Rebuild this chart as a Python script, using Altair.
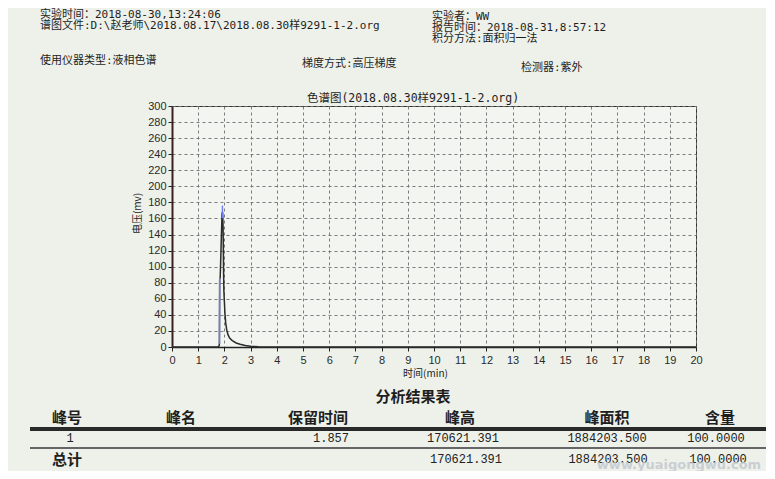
import altair as alt
import pandas as pd

# ---- chromatogram trace ----
time_min = [0, 1.0, 1.76, 1.80, 1.81, 1.82, 1.84, 1.87, 1.91, 1.93, 1.95, 1.96, 1.97, 1.98,
            2.00, 2.02, 2.05, 2.09, 2.14, 2.20, 2.30, 2.45, 2.60, 2.80, 3.00, 3.30, 4.00, 20.0]
voltage_mv = [0, 0, 0.2, 1.5, 4, 84, 87, 120, 166, 168, 150, 120, 90, 70,
              56, 42, 30, 21, 15, 11, 8, 5, 3.5, 2, 1, 0.4, 0.1, 0]

# blue peak markers
blue_seg = [1, 1, 2, 2]
blue_time = [1.81, 1.82, 1.925, 1.925]
blue_volt = [4, 86, 160, 176]

# axis ticks
x_ticks = list(range(0, 21))
y_ticks = list(range(0, 301, 20))

# ---- header texts ----
header_texts = [
    "实验时间：2018-08-30,13:24:06",
    "谱图文件:D:\\赵老师\\2018.08.17\\2018.08.30样9291-1-2.org",
    "实验者：WW",
    "报告时间：2018-08-31,8:57:12",
    "积分方法:面积归一法",
    "使用仪器类型:液相色谱",
    "梯度方式:高压梯度",
    "检测器:紫外",
]
header_px = [-132, -132, 260, 260, 260, -132, 130, 349]
header_py = [-91, -80, -89, -78, -67, -45, -42, -38]

chart_title = "色谱图(2018.08.30样9291-1-2.org)"

# ---- result table ----
table_title = "分析结果表"
col_headers = ["峰号", "峰名", "保留时间", "峰高", "峰面积", "含量"]
row1 = ["1", "", "1.857", "170621.391", "1884203.500", "100.0000"]
total_label = "总计"
total_row = ["", "", "", "170621.391", "1884203.500", "100.0000"]
watermark = "www.yuaigongwu.com"

col_x = [-105, 9, 146, 288, 435, 548]
row1_x = [-102, 9, 159, 291, 435, 544]
total_x = [-105, 9, 146, 294, 436, 546]

W, H = 524, 241

trace_df = pd.DataFrame({"t": time_min, "v": voltage_mv})
blue_df = pd.DataFrame({"seg": blue_seg, "t": blue_time, "v": blue_volt})

xscale = alt.Scale(domain=[0, 20], nice=False)
yscale = alt.Scale(domain=[0, 300], nice=False)

x_axis = alt.Axis(values=x_ticks, grid=True, gridDash=[3, 3],
                  gridColor="#6f6f6f", gridOpacity=0.9, labelFontSize=11,
                  labelColor="#2a2a2a", labelFont="Liberation Sans",
                  labelOverlap=False, labelFlush=False,
                  domainColor="#222", domainWidth=1.5, tickColor="#222",
                  tickSize=4, labelPadding=3,
                  titleFont="Noto Sans CJK SC", titleFontSize=10,
                  titleFontWeight="normal", titleColor="#222",
                  titleX=253, titleY=26, titleBaseline="middle")
y_axis = alt.Axis(values=y_ticks, grid=True, gridDash=[3, 3],
                  gridColor="#6f6f6f", gridOpacity=0.9, labelFontSize=11,
                  labelColor="#2a2a2a", labelFont="Liberation Sans",
                  labelOverlap=False, labelFlush=False,
                  domainColor="#3a2020", domainWidth=2, tickColor="#222",
                  tickSize=4, labelPadding=2,
                  titleFont="Noto Sans CJK SC", titleFontSize=10,
                  titleFontWeight="normal", titleColor="#222",
                  titleX=-35, titleY=107, titleAngle=270,
                  titleAlign="center", titleBaseline="middle")

trace = alt.Chart(trace_df).mark_line(color="#2b2b2b", strokeWidth=1.5).encode(
    x=alt.X("t:Q", scale=xscale, title="时间(min)", axis=x_axis),
    y=alt.Y("v:Q", scale=yscale, title="电压(mv)", axis=y_axis),
)

blue = alt.Chart(blue_df).mark_line(color="#6a7cf0", strokeWidth=1.4).encode(
    x=alt.X("t:Q", scale=xscale, title="时间(min)", axis=x_axis),
    y=alt.Y("v:Q", scale=yscale, title="电压(mv)", axis=y_axis),
    detail="seg:N",
)


def text_layer(texts, xs, ys, **kw):
    df = pd.DataFrame({"txt": texts, "px": xs, "py": ys})
    df = df[df["txt"] != ""]
    return alt.Chart(df).mark_text(baseline="middle", **kw).encode(
        x=alt.X("px:Q", scale=None, axis=None),
        y=alt.Y("py:Q", scale=None, axis=None),
        text="txt:N",
    )


mono = "DejaVu Sans Mono, Noto Sans CJK SC"
tfont = "Liberation Mono, Noto Sans CJK SC"

headers = text_layer(header_texts, header_px, header_py, align="left",
                     font=mono, fontSize=11, color="#1e1e1e")
title_t = text_layer([chart_title], [241], [-7], align="center",
                     font=mono, fontSize=11.5, color="#1e1e1e")
tab_title = text_layer([table_title], [241], [291], align="center",
                       font="Noto Sans CJK SC", fontSize=15, fontWeight="bold",
                       color="#1e1e1e")
col_head = text_layer(col_headers, col_x, [312] * 6, align="center",
                      font="Noto Sans CJK SC", fontSize=15, fontWeight="bold",
                      color="#1e1e1e")
r1 = text_layer(row1, row1_x, [332] * 6, align="center",
                font=tfont, fontSize=12, color="#222")
tot_lbl = text_layer([total_label], [total_x[0]], [354], align="center",
                     font="Noto Sans CJK SC", fontSize=15, fontWeight="bold",
                     color="#1e1e1e")
tot = text_layer(total_row, total_x, [353] * 6, align="center",
                 font=tfont, fontSize=12, color="#222")
wm = text_layer([watermark], [507], [359], align="center",
                font="DejaVu Sans", fontSize=13, fontWeight="bold",
                color="#c4c9d0", opacity=0.85)

thick_rule = alt.Chart(trace_df).mark_rule(color="#2a2a2a", strokeWidth=2.5).encode(
    x=alt.value(-142), x2=alt.value(600), y=alt.value(323))
thin_rule = alt.Chart(trace_df).mark_rule(color="#666", strokeWidth=1.5).encode(
    x=alt.value(-142), x2=alt.value(600), y=alt.value(342))

plot = alt.layer(trace, blue)
texts = alt.layer(headers, title_t, tab_title, col_head, r1, tot_lbl, tot, wm,
                  thick_rule, thin_rule)

chart = alt.layer(plot, texts).resolve_scale(
    x="independent", y="independent"
).resolve_axis(
    x="independent", y="independent"
).properties(
    width=W, height=H,
    autosize=alt.AutoSizeParams(type="none"),
    padding={"left": 164, "top": 98, "right": 70, "bottom": 124},
    background="#edf1ea",
).configure_view(
    stroke="#333", strokeWidth=1, fill="#f2f5f0"
)

chart.save("out.html", embed_options={"renderer": "svg", "actions": False})
